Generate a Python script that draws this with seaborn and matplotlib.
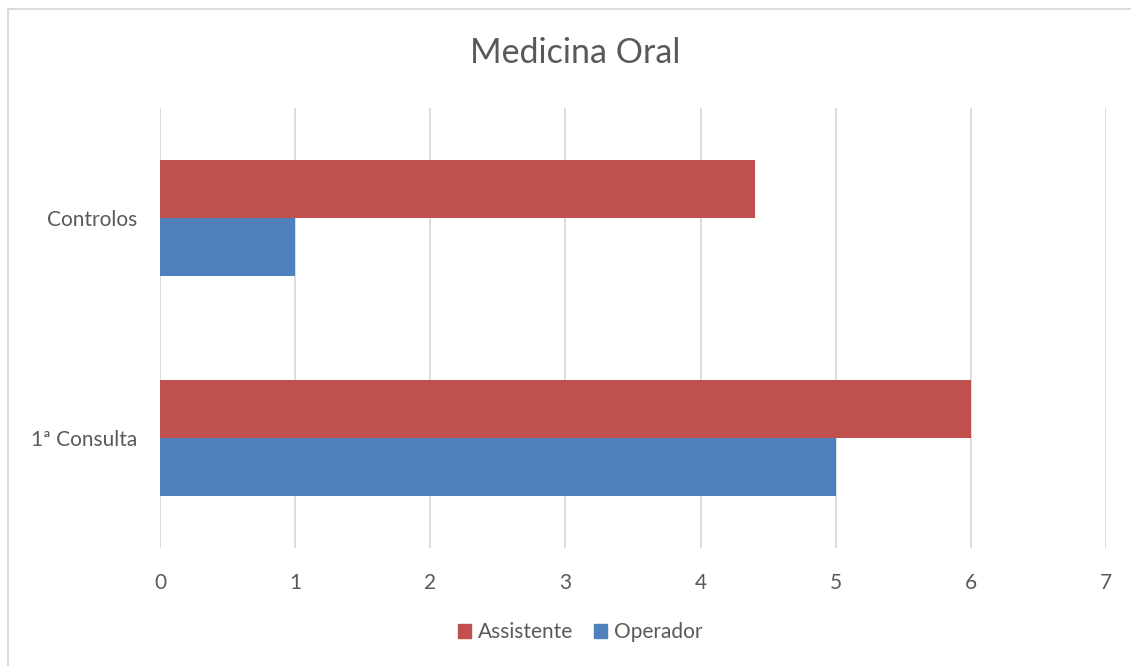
import matplotlib
matplotlib.use("Agg")
import matplotlib.pyplot as plt
import matplotlib.patches as mpatches
from matplotlib.lines import Line2D
import seaborn as sns
import pandas as pd

categories = ["Controlos", "1ª Consulta"]
series_names = ["Assistente", "Operador"]
assistente = [4.4, 6]
operador = [1, 5]
x_ticks = [0, 1, 2, 3, 4, 5, 6, 7]
title = "Medicina Oral"

colors = {"Assistente": "#C0504D", "Operador": "#4F81BD"}
text_color = "#595959"

df = pd.DataFrame({
    "categoria": categories * 2,
    "serie": [series_names[0]] * len(categories) + [series_names[1]] * len(categories),
    "valor": assistente + operador,
})

sns.set_theme(style="white")
plt.rcParams["font.family"] = ["Lato", "DejaVu Sans"]

W, H = 1131, 666
fig = plt.figure(figsize=(W / 100, H / 100), dpi=100)
ax = fig.add_axes([160 / W, 1 - 548 / H, (1106 - 160) / W, (548 - 108) / H])

sns.barplot(data=df, y="categoria", x="valor", hue="serie", order=categories,
            hue_order=series_names, palette=colors, orient="h", width=0.523,
            saturation=1, ax=ax, legend=True)

for p in ax.patches:
    p.set_edgecolor("none")
    p.set_linewidth(0)

ax.set_xlim(0, 7)
ax.set_ylim(1.5, -0.5)
ax.set_xticks(x_ticks)
ax.set_xticklabels([str(t) for t in x_ticks])
ax.xaxis.grid(True, color="#D9D9D9", linewidth=1.3)
ax.set_axisbelow(True)
for s in ax.spines.values():
    s.set_visible(False)
ax.tick_params(axis="both", length=0, labelsize=15, colors=text_color)
ax.tick_params(axis="x", pad=18)
ax.tick_params(axis="y", pad=16.5)
ax.set_xlabel("")
ax.set_ylabel("")

leg = ax.get_legend()
if leg is not None:
    leg.remove()
handles = [mpatches.Patch(color=colors[s], label=s) for s in series_names]
fig.legend(handles=handles, loc="center", bbox_to_anchor=(580 / W, 1 - 632 / H),
           ncol=2, frameon=False, fontsize=15, labelcolor=text_color,
           handlelength=0.65, handleheight=0.65, handletextpad=0.3, columnspacing=1.0)

fig.text(575 / W, 1 - 53 / H, title, ha="center", va="center", fontsize=24.5,
         color=text_color)

fig.lines.append(Line2D([8 / W, 1.0], [1 - 9 / H, 1 - 9 / H], transform=fig.transFigure,
                        color="#D9D9D9", linewidth=1.3))
fig.lines.append(Line2D([8 / W, 8 / W], [0.0, 1 - 9 / H], transform=fig.transFigure,
                        color="#D9D9D9", linewidth=1.3))

fig.savefig("out.png", dpi=100)
